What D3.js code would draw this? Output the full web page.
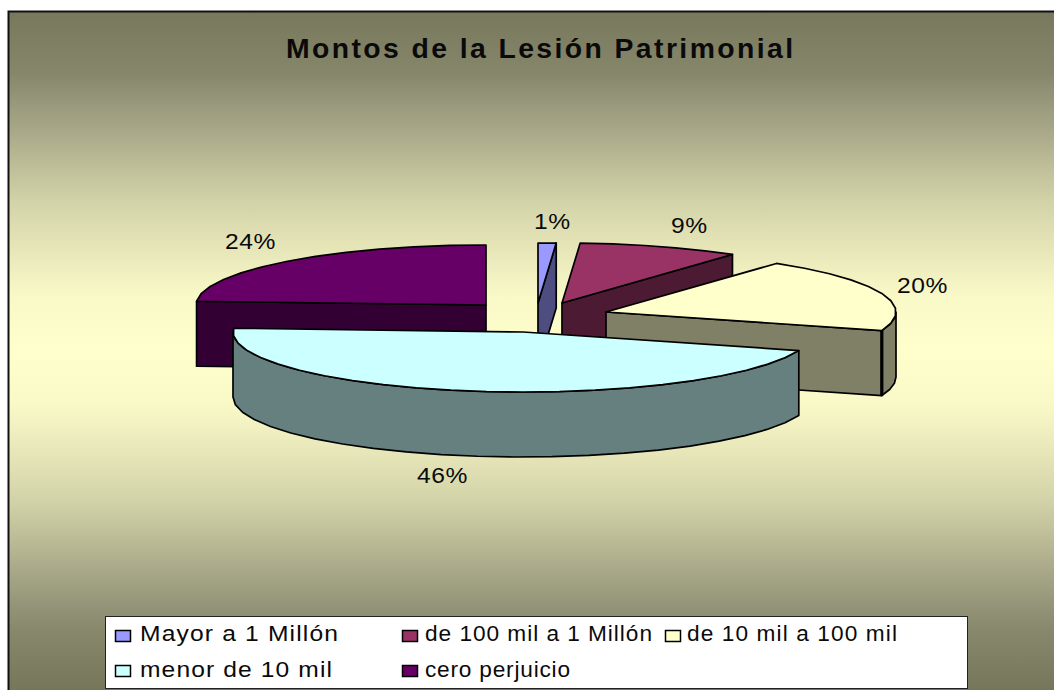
<!DOCTYPE html>
<html><head><meta charset="utf-8">
<script src="https://cdn.jsdelivr.net/npm/d3@7"></script>
<style>html,body{margin:0;padding:0;background:#fff}svg{display:block}</style>
</head><body><div id="chart"></div>
<script>
const categories = ["Mayor a 1 Millón","de 100 mil a 1 Millón","de 10 mil a 100 mil","menor de 10 mil","cero perjuicio"];
const values = [1,9,20,46,24];
const labelsText = ["1%","9%","20%","46%","24%"];
const topColors = ["#9999ff","#993366","#ffffcc","#ccffff","#660066"];
const sideColors = ["#4d4d80","#4d1a33","#808066","#668080","#330033"];
const titleText = "Montos de la Lesión Patrimonial";

// layout (exploded slice centres as drawn, label anchors, legend cells)
const centres = [[538,303],[562,303],[606,312],[523,332],[486,305]];
const labelPos = [[534,229],[671,233],[897,293],[417,483],[225,249]];
const legendMarkers = [[115,630],[402,630],[665,630],[115,665],[402,665]];
const legendText = [[140,641],[425,641],[687,641],[140,677],[425,677]];
const legendWidths = [198,227,210,192,145];
const legendStretch = [1.12,1.03,1.03,1.12,1.03];
const W=1054,H=690,rx=290,ry=60,depth=65;

const svg=d3.select("#chart").append("svg").attr("width",W).attr("height",H);
const defs=svg.append("defs");
const grad=defs.append("linearGradient").attr("id","bg").attr("x1",0).attr("y1",0).attr("x2",0).attr("y2",1);
[[0,"#78785d"],[0.09,"#86866b"],[0.13,"#96967a"],[0.28,"#d3d3a9"],[0.42,"#f9f9c8"],[0.5,"#ffffcc"],[0.58,"#f9f9c8"],[0.72,"#d3d3a9"],[0.87,"#96967a"],[0.91,"#88886d"],[1,"#76765b"]]
  .forEach(s=>grad.append("stop").attr("offset",s[0]).attr("stop-color",s[1]));
svg.append("rect").attr("x",9).attr("y",12).attr("width",W-9).attr("height",H-12).attr("fill","url(#bg)");
svg.append("path").attr("d",`M${W},11.5H8.5V${H}`).attr("fill","none").attr("stroke","#111").attr("stroke-width",2);

const pie=d3.pie().sort(null).value(d=>d).startAngle(0).endAngle(2*Math.PI);
const arcs=pie(values);
const line=d3.line();
const pt=(c,a,dy=0)=>[c[0]+rx*Math.sin(a),c[1]-ry*Math.cos(a)+dy];
function arcPts(c,a0,a1,dy=0){
  const n=Math.max(1,Math.ceil((a1-a0)/(Math.PI/24)));
  return d3.range(n+1).map(i=>pt(c,a0+(a1-a0)*i/n,dy));
}
const g=svg.append("g").attr("stroke","#000").attr("stroke-width",1.7).attr("stroke-linejoin","round");
const order=[4,0,1,2,3];
order.forEach(i=>{
  const a=arcs[i],c=centres[i],s=sideColors[i],t=topColors[i];
  const wall=(p,q)=>g.append("path").attr("fill",s).attr("d",line([p,q,[q[0],q[1]+depth],[p[0],p[1]+depth]])+"Z");
  if(a.endAngle<Math.PI) wall(c,pt(c,a.endAngle));
  if(a.startAngle>Math.PI) wall(c,pt(c,a.startAngle));
  const o0=Math.max(a.startAngle,Math.PI/2),o1=Math.min(a.endAngle,Math.PI*1.5);
  if(o1>o0){
    const up=arcPts(c,o0,o1),dn=arcPts(c,o0,o1,depth).reverse();
    g.append("path").attr("fill",s).attr("d",line(up.concat(dn))+"Z");
    if(a.endAngle<Math.PI){
      const e=pt(c,a.endAngle);
      g.append("path").attr("fill","none").attr("stroke-width",3.2).attr("d",line([e,[e[0],e[1]+depth]]));
    }
  }
  g.append("path").attr("fill",t).attr("d",line([c].concat(arcPts(c,a.startAngle,a.endAngle)))+"Z");
});

const font="'Liberation Sans',Arial,sans-serif";
const label=(x,y,t,size,sx,ls,bold)=>svg.append("text").attr("transform",`translate(${x},${y}) scale(${sx},1)`)
  .attr("font-family",font).attr("font-size",size).attr("font-weight",bold?"bold":"normal").attr("letter-spacing",ls).attr("fill","#0a0a0a").text(t);
label(286,58,titleText,27,1.05,2.3,true);
labelsText.forEach((t,i)=>label(labelPos[i][0],labelPos[i][1],t,22,1.12,0.5));

svg.append("rect").attr("x",105.5).attr("y",616.5).attr("width",862).attr("height",72).attr("fill","#fff").attr("stroke","#222").attr("stroke-width",1);
categories.forEach((t,i)=>{
  const [x,y]=legendMarkers[i];
  svg.append("rect").attr("x",x+.5).attr("y",y+.5).attr("width",15).attr("height",11).attr("fill",topColors[i]).attr("stroke","#000").attr("stroke-width",1.5);
  const el=label(legendText[i][0],legendText[i][1],t,22,legendStretch[i],0);
  const natural=el.node().getComputedTextLength();
  el.attr("letter-spacing",(legendWidths[i]/legendStretch[i]-natural)/(t.length-1));
});
</script></body></html>
